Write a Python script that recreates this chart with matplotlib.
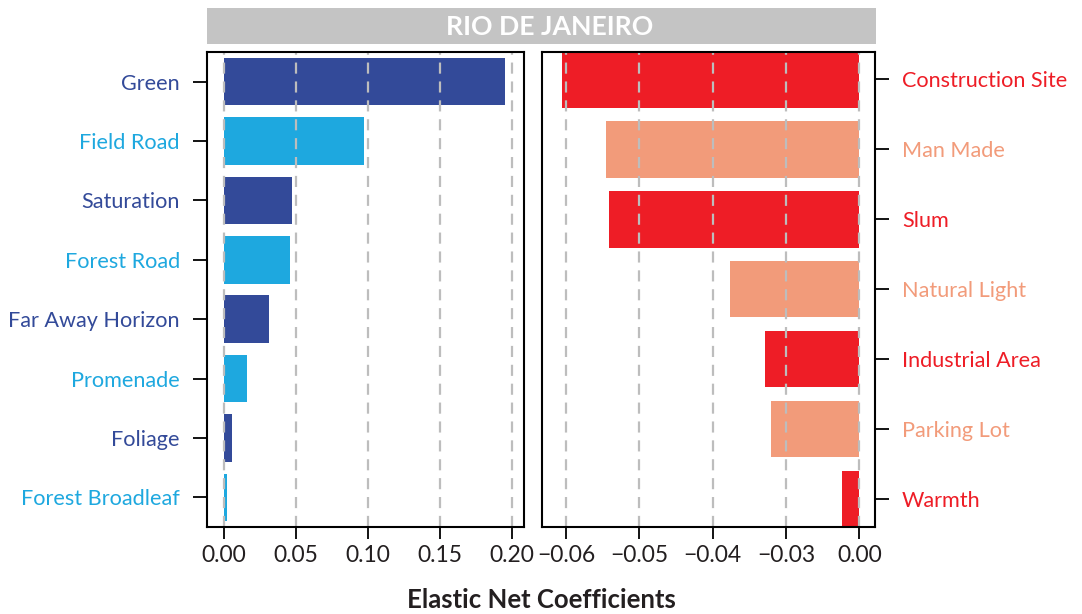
import numpy as np
import matplotlib
matplotlib.use("Agg")
import matplotlib.pyplot as plt
from matplotlib.patches import Rectangle
from matplotlib.ticker import FixedLocator, FixedFormatter

plt.rcParams['font.family'] = ['Lato', 'DejaVu Sans']

# Positive coefficients (left panel), top to bottom
pos_labels = ["Green", "Field Road", "Saturation", "Forest Road",
              "Far Away Horizon", "Promenade", "Foliage", "Forest Broadleaf"]
pos_values = [0.195, 0.097, 0.047, 0.046, 0.031, 0.016, 0.0056, 0.002]

# Negative coefficients (right panel), top to bottom
neg_labels = ["Construction Site", "Man Made", "Slum", "Natural Light",
              "Industrial Area", "Parking Lot", "Warmth"]
neg_values = [-0.0606, -0.0545, -0.0542, -0.0377, -0.0329, -0.0321, -0.0073]

left_ticks = [0.00, 0.05, 0.10, 0.15, 0.20]
right_ticks = [-0.06, -0.05, -0.04, -0.03, 0.00]
right_tick_labels = ["\u22120.06", "\u22120.05", "\u22120.04", "\u22120.03", "0.00"]

title = "RIO DE JANEIRO"
xlabel = "Elastic Net Coefficients"

dark_blue = "#334A99"
light_blue = "#1EA8DF"
red = "#EE1D26"
salmon = "#F29B7A"
grid_col = "#BDBDBD"
text_col = "#231F20"

W, H = 1082, 614
fig = plt.figure(figsize=(W / 100, H / 100), dpi=100)


def fx(px):
    return px / W


def fy(py):
    return 1 - py / H


# Broken scale: the segment between -0.03 and 0 is compressed 3x
def fwd(v):
    v = np.asarray(v, dtype=float)
    return np.where(v < -0.03, v, -0.03 + (v + 0.03) / 3.0)


def inv(t):
    t = np.asarray(t, dtype=float)
    return np.where(t < -0.03, t, -0.03 + (t + 0.03) * 3.0)


ax1 = fig.add_axes([fx(207), fy(527), fx(524 - 207), (527 - 52) / H])
ax2 = fig.add_axes([fx(542), fy(527), fx(875 - 542), (527 - 52) / H])

# Left panel
n1 = len(pos_values)
y1 = np.arange(n1)
cols1 = [dark_blue if i % 2 == 0 else light_blue for i in range(n1)]
ax1.barh(y1, pos_values, height=0.8, color=cols1, zorder=1)
ax1.set_ylim(n1 - 0.5, -0.5)
ax1.set_xlim(-0.0118, 0.2083)
ax1.set_xticks(left_ticks)
ax1.set_xticklabels([f"{t:.2f}" for t in left_ticks])
ax1.set_yticks(y1)
ax1.set_yticklabels(pos_labels)
for lab, c in zip(ax1.get_yticklabels(), cols1):
    lab.set_color(c)
for t in left_ticks:
    ax1.axvline(t, color=grid_col, lw=1.6, ls=(0, (5, 3.5)), zorder=2)

# Right panel
n2 = len(neg_values)
y2 = np.arange(n2)
cols2 = [red if i % 2 == 0 else salmon for i in range(n2)]
ax2.set_xscale('function', functions=(fwd, inv))
ax2.barh(y2, neg_values, height=0.81, color=cols2, zorder=1)
ax2.set_ylim(n2 - 0.6, -0.39)
ax2.set_xlim(-0.0633, 0.0064)
ax2.xaxis.set_major_locator(FixedLocator(right_ticks))
ax2.xaxis.set_major_formatter(FixedFormatter(right_tick_labels))
ax2.xaxis.set_minor_locator(FixedLocator([]))
ax2.set_yticks(y2)
ax2.set_yticklabels(neg_labels)
ax2.yaxis.tick_right()
for lab, c in zip(ax2.get_yticklabels(), cols2):
    lab.set_color(c)
for t in right_ticks:
    ax2.axvline(t, color=grid_col, lw=1.6, ls=(0, (5, 3.5)), zorder=2)

for ax in (ax1, ax2):
    for s in ax.spines.values():
        s.set_linewidth(1.5)
        s.set_zorder(3)
    ax.tick_params(axis='y', which='major', length=10, width=1.3,
                   direction='out', labelsize=15.6, pad=9.5)
    ax.tick_params(axis='x', which='major', length=8.6, width=1.3,
                   direction='out', labelsize=16.5, pad=4,
                   labelcolor=text_col)

# Title strip
fig.patches.append(Rectangle((fx(207), fy(44)), fx(876 - 207), 36 / H,
                             transform=fig.transFigure, facecolor="#C4C4C4",
                             edgecolor="none"))
fig.text(fx(550), fy(27), title, ha='center', va='center', color='white',
         fontsize=19.2, fontweight='bold')

fig.text(fx(541), fy(600), xlabel, ha='center', va='center', color=text_col,
         fontsize=18.5, fontweight='bold')

fig.savefig("out.png", dpi=100)
